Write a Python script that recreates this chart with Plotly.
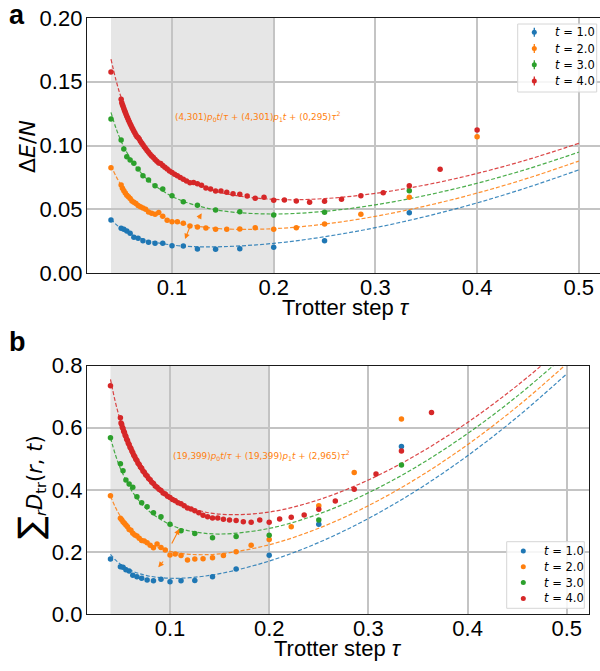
import plotly.graph_objects as go

# ---------------- data ----------------
# Trotter step tau = t / n_steps
steps_t1 = [3, 4, 5, 6, 7, 8, 9, 10, 11, 12, 13, 14, 15, 16, 17, 18, 19, 20, 25]
steps_t3 = [9, 12, 15, 18, 21, 24, 27, 30, 33, 36, 39, 42, 45, 48, 51, 54, 57, 60, 75]
steps_t2_top = list(range(5, 41)) + [50]
steps_t4_top = list(range(10, 81)) + [100]
steps_t2_bot = list(range(6, 41)) + [50]
steps_t4_bot = list(range(11, 81)) + [100]

# panel a : Delta E / N
dE_t1 = [0.0473, 0.0254, 0.0202, 0.0190, 0.0186, 0.0189, 0.0212, 0.0215, 0.0233, 0.0233,
         0.0241, 0.0254, 0.0273, 0.0281, 0.0312, 0.0330, 0.0343, 0.0351, 0.0416]
dE_t3 = [0.0646, 0.0476, 0.0455, 0.0481, 0.0494, 0.0531, 0.0560, 0.0607, 0.0659, 0.0685,
         0.0730, 0.0763, 0.0816, 0.0860, 0.0886, 0.0912, 0.0973, 0.1043, 0.1208]
dE_t2 = [0.1069, 0.0594, 0.0461, 0.0385, 0.0356, 0.0343, 0.0356, 0.0346, 0.0343, 0.0343,
         0.0353, 0.0361, 0.0369, 0.0390, 0.0403, 0.0403, 0.0415, 0.0445, 0.0475, 0.0462,
         0.0470, 0.0478, 0.0500, 0.0510, 0.0520, 0.0530, 0.0545, 0.0555, 0.0565, 0.0585,
         0.0598, 0.0610, 0.0628, 0.0645, 0.0665, 0.0690, 0.0826]
dE_t4 = [0.1121, 0.0813, 0.0685, 0.0630, 0.0607, 0.0578, 0.0563, 0.0555, 0.0565, 0.0573,
         0.0571, 0.0594, 0.0586, 0.0604, 0.0617, 0.0622, 0.0633, 0.0643, 0.0643, 0.0659,
         0.0667, 0.0688, 0.0701, 0.0711, 0.0709, 0.0722, 0.0735, 0.0750, 0.0762, 0.0775,
         0.0789, 0.0801, 0.0815, 0.0829, 0.0843, 0.0858, 0.0862, 0.0876, 0.0890, 0.0905,
         0.0917, 0.0932, 0.0948, 0.0960, 0.0976, 0.0990, 0.1006, 0.1020, 0.1034, 0.1050,
         0.1063, 0.1068, 0.1083, 0.1098, 0.1112, 0.1128, 0.1142, 0.1157, 0.1170, 0.1187,
         0.1200, 0.1216, 0.1230, 0.1245, 0.1260, 0.1275, 0.1290, 0.1305, 0.1320, 0.1335,
         0.1362, 0.1576]

# panel b : sum_r D_tr(r, t)
D_t1 = [0.540, 0.290, 0.190, 0.146, 0.121, 0.109, 0.108, 0.105, 0.113, 0.108,
        0.110, 0.116, 0.121, 0.126, 0.139, 0.143, 0.151, 0.153, 0.178]
D_t3 = [0.480, 0.303, 0.254, 0.250, 0.246, 0.260, 0.269, 0.290, 0.314, 0.327,
        0.346, 0.359, 0.378, 0.409, 0.419, 0.432, 0.462, 0.484, 0.568]
D_t2 = [0.628, 0.456, 0.349, 0.282, 0.241, 0.222, 0.201, 0.189, 0.182, 0.179,
        0.178, 0.175, 0.189, 0.194, 0.191, 0.207, 0.215, 0.226, 0.214, 0.222,
        0.230, 0.236, 0.237, 0.2445, 0.252, 0.255, 0.2606, 0.270, 0.273, 0.282,
        0.287, 0.293, 0.298, 0.304, 0.309, 0.3815]
D_t4 = [0.649, 0.525, 0.451, 0.402, 0.3645, 0.338, 0.3195, 0.312, 0.3066, 0.296,
        0.3034, 0.296, 0.298, 0.302, 0.303, 0.3056, 0.310, 0.310, 0.314, 0.3185,
        0.327, 0.333, 0.339, 0.342, 0.349, 0.356, 0.359, 0.365, 0.369, 0.376,
        0.380, 0.387, 0.390, 0.398, 0.402, 0.409, 0.413, 0.421, 0.425, 0.433,
        0.437, 0.445, 0.449, 0.457, 0.461, 0.470, 0.474, 0.482, 0.486, 0.495,
        0.499, 0.507, 0.512, 0.520, 0.525, 0.533, 0.537, 0.546, 0.550, 0.559,
        0.563, 0.572, 0.576, 0.585, 0.589, 0.598, 0.602, 0.611, 0.615, 0.632,
        0.735]

# dashed fit curves
fit_tau = [0.04, 0.045, 0.05, 0.06, 0.07, 0.08, 0.10, 0.12, 0.15, 0.20,
           0.25, 0.30, 0.35, 0.40, 0.45, 0.50]
fitA_t1 = [0.0423, 0.0382, 0.0350, 0.0302, 0.0270, 0.0248, 0.0220, 0.0208, 0.0207, 0.0233,
           0.0285, 0.0356, 0.0445, 0.0550, 0.0672, 0.0809]
fitA_t2 = [0.0841, 0.0758, 0.0692, 0.0594, 0.0526, 0.0476, 0.0411, 0.0374, 0.0347, 0.0348,
           0.0384, 0.0445, 0.0527, 0.0627, 0.0744, 0.0878]
fitA_t3 = [0.1259, 0.1134, 0.1034, 0.0886, 0.0781, 0.0705, 0.0602, 0.0539, 0.0487, 0.0463,
           0.0484, 0.0535, 0.0610, 0.0704, 0.0817, 0.0948]
fitA_t4 = [0.1677, 0.1510, 0.1376, 0.1177, 0.1037, 0.0933, 0.0792, 0.0705, 0.0627, 0.0578,
           0.0584, 0.0625, 0.0692, 0.0781, 0.0890, 0.1017]
fitB_t1 = [0.1925, 0.1750, 0.1614, 0.1421, 0.1299, 0.1223, 0.1160, 0.1178, 0.1306, 0.1712,
           0.2311, 0.3082, 0.4013, 0.5101, 0.6342, 0.7735]
fitB_t2 = [0.3803, 0.3440, 0.3154, 0.2736, 0.2452, 0.2255, 0.2024, 0.1929, 0.1944, 0.2237,
           0.2769, 0.3495, 0.4394, 0.5457, 0.6680, 0.8058]
fitB_t3 = [0.5681, 0.5130, 0.4693, 0.4050, 0.3606, 0.3288, 0.2888, 0.2680, 0.2582, 0.2763,
           0.3227, 0.3908, 0.4775, 0.5814, 0.7018, 0.8381]
fitB_t4 = [0.7558, 0.6820, 0.6233, 0.5364, 0.4759, 0.4321, 0.3751, 0.3431, 0.3221, 0.3289,
           0.3686, 0.4321, 0.5155, 0.6171, 0.7356, 0.8704]

labels = ["<i>t</i> = 1.0", "<i>t</i> = 2.0", "<i>t</i> = 3.0", "<i>t</i> = 4.0"]
times = [1.0, 2.0, 3.0, 4.0]
colors = ["#1f77b4", "#ff7f0e", "#2ca02c", "#d62728"]
x_ticks = [0.1, 0.2, 0.3, 0.4, 0.5]
x_ticktext = ["0.1", "0.2", "0.3", "0.4", "0.5"]
yA_ticks = [0, 0.05, 0.10, 0.15, 0.20]
yA_ticktext = ["0.00", "0.05", "0.10", "0.15", "0.20"]
yB_ticks = [0, 0.2, 0.4, 0.6, 0.8]
yB_ticktext = ["0.0", "0.2", "0.4", "0.6", "0.8"]

formula_a = ("(4,301)<i>p</i><sub>0</sub><i>t</i>/<i>τ</i> + (4,301)<i>p</i><sub>1</sub><i>t</i>"
             " + (0,295)<i>τ</i><sup>2</sup>")
formula_b = ("(19,399)<i>p</i><sub>0</sub><i>t</i>/<i>τ</i> + (19,399)<i>p</i><sub>1</sub><i>t</i>"
             " + (2,965)<i>τ</i><sup>2</sup>")

# ---------------- figure ----------------
fig = go.Figure()

top_steps = [steps_t1, steps_t2_top, steps_t3, steps_t4_top]
top_vals = [dE_t1, dE_t2, dE_t3, dE_t4]
bot_steps = [steps_t1, steps_t2_bot, steps_t3, steps_t4_bot]
bot_vals = [D_t1, D_t2, D_t3, D_t4]
top_fits = [fitA_t1, fitA_t2, fitA_t3, fitA_t4]
bot_fits = [fitB_t1, fitB_t2, fitB_t3, fitB_t4]

for i in range(4):
    fig.add_trace(go.Scatter(x=fit_tau, y=top_fits[i], mode="lines", line_shape="spline",
                             line=dict(color=colors[i], width=1.2, dash="4px,2px"),
                             opacity=0.85, showlegend=False, xaxis="x", yaxis="y",
                             hoverinfo="skip"))
    fig.add_trace(go.Scatter(x=fit_tau, y=bot_fits[i], mode="lines", line_shape="spline",
                             line=dict(color=colors[i], width=1.2, dash="4px,2px"),
                             opacity=0.85, showlegend=False, xaxis="x2", yaxis="y2",
                             hoverinfo="skip"))

for i in range(4):
    tau = [times[i] / n for n in top_steps[i]]
    fig.add_trace(go.Scatter(x=tau, y=top_vals[i], mode="markers", name=labels[i],
                             marker=dict(color=colors[i], size=5.5),
                             xaxis="x", yaxis="y", showlegend=False))
for i in range(4):
    tau = [times[i] / n for n in bot_steps[i]]
    fig.add_trace(go.Scatter(x=tau, y=bot_vals[i], mode="markers", name=labels[i],
                             marker=dict(color=colors[i], size=5.5),
                             xaxis="x2", yaxis="y2", showlegend=False))

W, H = 600, 671
TICKFONT = dict(size=22, family="Liberation Sans, Arial", color="black")
grid = dict(showgrid=True, gridcolor="#c4c4c4", gridwidth=1.5, zeroline=False,
            showline=True, linecolor="#1a1a1a", linewidth=1.4, ticks="", automargin=False,
            tickfont=TICKFONT)

fig.update_layout(
    width=W, height=H, margin=dict(l=0, r=0, t=0, b=0, pad=0, autoexpand=False),
    plot_bgcolor="white", paper_bgcolor="white", showlegend=False,
    font=dict(family="DejaVu Sans", color="black"),
    xaxis=dict(domain=[87 / W, 1.0], range=[0.01642, 0.52085], anchor="y",
               tickvals=x_ticks, ticktext=x_ticktext,
               mirror=True, ticklabelstandoff=-6, **grid),
    yaxis=dict(domain=[1 - 273.1 / H, 1 - 17.9 / H], range=[0, 0.2], anchor="x",
               tickvals=yA_ticks, ticktext=yA_ticktext, mirror=False,
               ticklabelstandoff=-1, **grid),
    xaxis2=dict(domain=[87 / W, 589 / W], range=[0.01633, 0.5224], anchor="y2",
                tickvals=x_ticks, ticktext=x_ticktext,
                mirror=True, ticklabelstandoff=-6, **grid),
    yaxis2=dict(domain=[1 - 614.3 / H, 1 - 365.6 / H], range=[0, 0.8], anchor="x2",
                tickvals=yB_ticks, ticktext=yB_ticktext,
                mirror=True, ticklabelstandoff=-1, **grid),
)

# shaded regions
for xr, yr, ytop in (("x", "y", 0.2), ("x2", "y2", 0.8)):
    fig.add_shape(type="rect", xref=xr, yref=yr, x0=0.04, x1=0.2, y0=0, y1=ytop,
                  fillcolor="#e6e6e6", line=dict(width=0), layer="below")

ann = []


def px(x):
    return x / W


def py(y):
    return 1 - y / H


# ---- hand-built legends (matplotlib style) ----
legend_specs = [
    # box x0, x1, y0, y1, marker x, text x, row ys, errorbar
    (517.7, 596.7, 24.0, 92.0, 534.3, 553.0, [32.3, 48.5, 64.7, 80.9], True),
    (506.7, 584.3, 541.7, 608.3, 523.3, 542.0, [551.0, 566.8, 582.6, 598.4], False),
]
for bx0, bx1, by0, by1, mx, tx, rows, ebar in legend_specs:
    fig.add_shape(type="rect", xref="paper", yref="paper", x0=px(bx0), x1=px(bx1),
                  y0=py(by1), y1=py(by0), fillcolor="rgba(255,255,255,0.85)",
                  line=dict(color="#d6d6d6", width=1), layer="above")
    for i, ry in enumerate(rows):
        if ebar:
            fig.add_shape(type="line", xref="paper", yref="paper",
                          xsizemode="pixel", ysizemode="pixel",
                          xanchor=px(mx), yanchor=py(ry), x0=0, x1=0, y0=-4.5, y1=4.5,
                          line=dict(color=colors[i], width=1.3), layer="above")
        fig.add_shape(type="circle", xref="paper", yref="paper",
                      xsizemode="pixel", ysizemode="pixel",
                      xanchor=px(mx), yanchor=py(ry), x0=-2.5, x1=2.5, y0=-2.5, y1=2.5,
                      fillcolor=colors[i], line=dict(width=0), layer="above")
        ann.append(dict(text=labels[i], xref="paper", yref="paper", x=px(tx), y=py(ry),
                        xanchor="left", yanchor="middle", showarrow=False,
                        font=dict(size=11.5, family="DejaVu Sans", color="black")))

# axis titles
ann.append(dict(text="Δ<i>E</i>/<i>N</i>", xref="paper", yref="paper", x=px(27), y=py(147),
                textangle=-90, showarrow=False, font=dict(size=22, family="DejaVu Sans"),
                xanchor="center", yanchor="middle"))
ann.append(dict(text="<span style='font-size:34px'>∑</span><sub><i>r</i></sub><i>D</i><sub>tr</sub>(<i>r</i>, <i>t</i>)",
                xref="paper", yref="paper", x=px(30), y=py(487),
                textangle=-90, showarrow=False, font=dict(size=21, family="DejaVu Sans"),
                xanchor="center", yanchor="middle"))
ann.append(dict(text="Trotter step <i>τ</i>", xref="paper", yref="paper", x=px(345.5), y=py(307),
                showarrow=False, font=dict(size=22, family="Liberation Sans, Arial"),
                xanchor="center", yanchor="middle"))
ann.append(dict(text="Trotter step <i>τ</i>", xref="paper", yref="paper", x=px(338), y=py(648),
                showarrow=False, font=dict(size=22, family="Liberation Sans, Arial"),
                xanchor="center", yanchor="middle"))
# panel labels
ann.append(dict(text="<b>a</b>", xref="paper", yref="paper", x=px(7), y=py(-2),
                showarrow=False, font=dict(size=27, family="Liberation Sans"),
                xanchor="left", yanchor="top"))
ann.append(dict(text="<b>b</b>", xref="paper", yref="paper", x=px(7), y=py(325),
                showarrow=False, font=dict(size=27, family="Liberation Sans"),
                xanchor="left", yanchor="top"))
# formulas
ann.append(dict(text=formula_a, xref="x", yref="y", x=0.1007, y=0.1226, showarrow=False,
                xanchor="left", yanchor="middle", font=dict(size=8.8, color="#ff7f0e")))
ann.append(dict(text=formula_b, xref="x2", yref="y2", x=0.1007, y=0.5093, showarrow=False,
                xanchor="left", yanchor="middle", font=dict(size=8.8, color="#ff7f0e")))
# arrows
arrows = [("x", "y", 0.1253, 0.0416, 0.1292, 0.0469), ("x", "y", 0.1177, 0.0364, 0.1128, 0.0267),
          ("x2", "y2", 0.1010, 0.2229, 0.1094, 0.2744), ("x2", "y2", 0.0943, 0.1747, 0.0882, 0.1512)]
for xr, yr, x0, y0, x1, y1 in arrows:
    ann.append(dict(text="", xref=xr, yref=yr, axref=xr, ayref=yr, x=x1, y=y1, ax=x0, ay=y0,
                    showarrow=True, arrowhead=2, arrowsize=1, arrowwidth=1.1, arrowcolor="#ff7f0e"))
fig.update_layout(annotations=ann)

fig.write_html("out.html", config={"displayModeBar": False},
               post_script="document.body.style.margin='0';document.body.style.overflow='hidden';")
